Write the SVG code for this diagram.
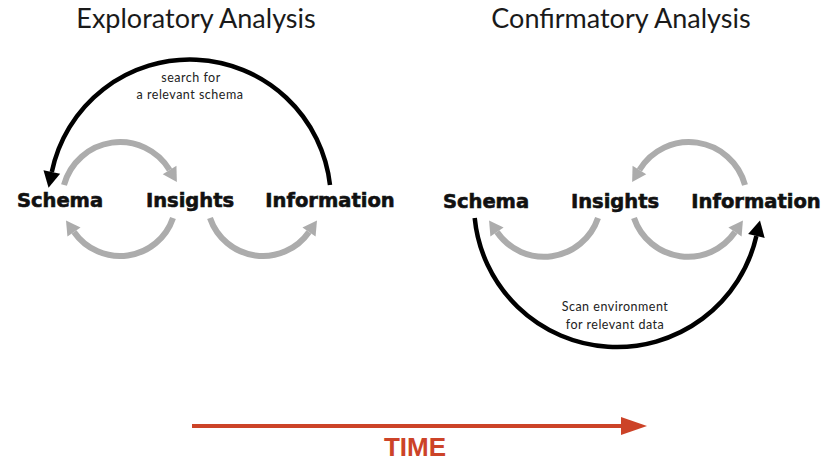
<svg xmlns="http://www.w3.org/2000/svg" width="834" height="462" viewBox="0 0 834 462">
  <style>
    .title { font-family: Lato, "Open Sans", sans-serif; font-size: 27px; fill: #1a1a1a; text-anchor: middle; }
    .node { font-family: "DejaVu Sans", sans-serif; font-weight: bold; font-size: 19.5px; fill: #111; stroke: #111; stroke-width: 0.6px; text-anchor: middle; }
    .note { font-family: Lato, "Open Sans", sans-serif; font-size: 12.5px; letter-spacing: 0.5px; fill: #222; text-anchor: middle; }
    .grey { fill: none; stroke: #acacac; stroke-width: 6; stroke-linecap: butt; }
    .black { fill: none; stroke: #000; stroke-width: 4.5; stroke-linecap: butt; }
    .time { fill: none; stroke: #cc4328; stroke-width: 4; }
    .timelabel { font-family: "Liberation Sans", Arial, sans-serif; font-weight: bold; font-size: 26px; fill: #cc4328; text-anchor: middle; }
  </style>
  <defs>
    <marker id="headGrey" markerUnits="userSpaceOnUse" markerWidth="20" markerHeight="20" refX="0" refY="0" orient="auto" overflow="visible">
      <path d="M0,-8 L14,0 L0,8 z" fill="#acacac"/>
    </marker>
    <marker id="headBlack" markerUnits="userSpaceOnUse" markerWidth="20" markerHeight="20" refX="0" refY="0" orient="auto" overflow="visible">
      <path d="M0,-8.5 L16,0 L0,8.5 z" fill="#000"/>
    </marker>
    <marker id="headTime" markerUnits="userSpaceOnUse" markerWidth="30" markerHeight="30" refX="0" refY="0" orient="auto" overflow="visible">
      <path d="M0,-9 L26,0 L0,9 z" fill="#cc4328"/>
    </marker>
  </defs>

  <!-- panel titles -->
  <text class="title" x="196" y="28">Exploratory Analysis</text>
  <text class="title" x="621" y="28">Confirmatory Analysis</text>

  <!-- exploratory nodes -->
  <g id="exp-schema"><text class="node" x="60" y="207">Schema</text></g>
  <g id="exp-insights"><text class="node" x="190" y="207">Insights</text></g>
  <g id="exp-information"><text class="node" x="330" y="207">Information</text></g>

  <!-- confirmatory nodes -->
  <g id="conf-schema"><text class="node" x="486" y="208">Schema</text></g>
  <g id="conf-insights"><text class="node" x="615" y="208">Insights</text></g>
  <g id="conf-information"><text class="node" x="756" y="208">Information</text></g>

  <g id="connectors">
    <!-- exploratory loops -->
    <path class="grey" d="M64,185 A58,58 0 0 1 169.6,170" marker-end="url(#headGrey)"/>
    <path class="grey" d="M173,218 A56,56 0 0 1 74,232" marker-end="url(#headGrey)"/>
    <path class="grey" d="M210,218 A56,56 0 0 0 309,232" marker-end="url(#headGrey)"/>
    <path class="black" d="M330,185 A141,141 0 0 0 51.8,172" marker-end="url(#headBlack)"/>
    <text class="note" x="191" y="81.5">search for</text>
    <text class="note" x="190" y="98.5">a relevant schema</text>

    <!-- confirmatory loops -->
    <path class="grey" d="M745,185 A58,58 0 0 0 639.4,170" marker-end="url(#headGrey)"/>
    <path class="grey" d="M598,218 A57,57 0 0 1 497,232" marker-end="url(#headGrey)"/>
    <path class="grey" d="M634,218 A57,57 0 0 0 735,232" marker-end="url(#headGrey)"/>
    <path class="black" d="M474.7,218 A143,143 0 0 0 756.4,236" marker-end="url(#headBlack)"/>
    <text class="note" x="615" y="311">Scan environment</text>
    <text class="note" x="615" y="329">for relevant data</text>

    <!-- time axis -->
    <path class="time" d="M192,426 L621,426" marker-end="url(#headTime)"/>
  </g>
  <text class="timelabel" x="415" y="456">TIME</text>
</svg>
